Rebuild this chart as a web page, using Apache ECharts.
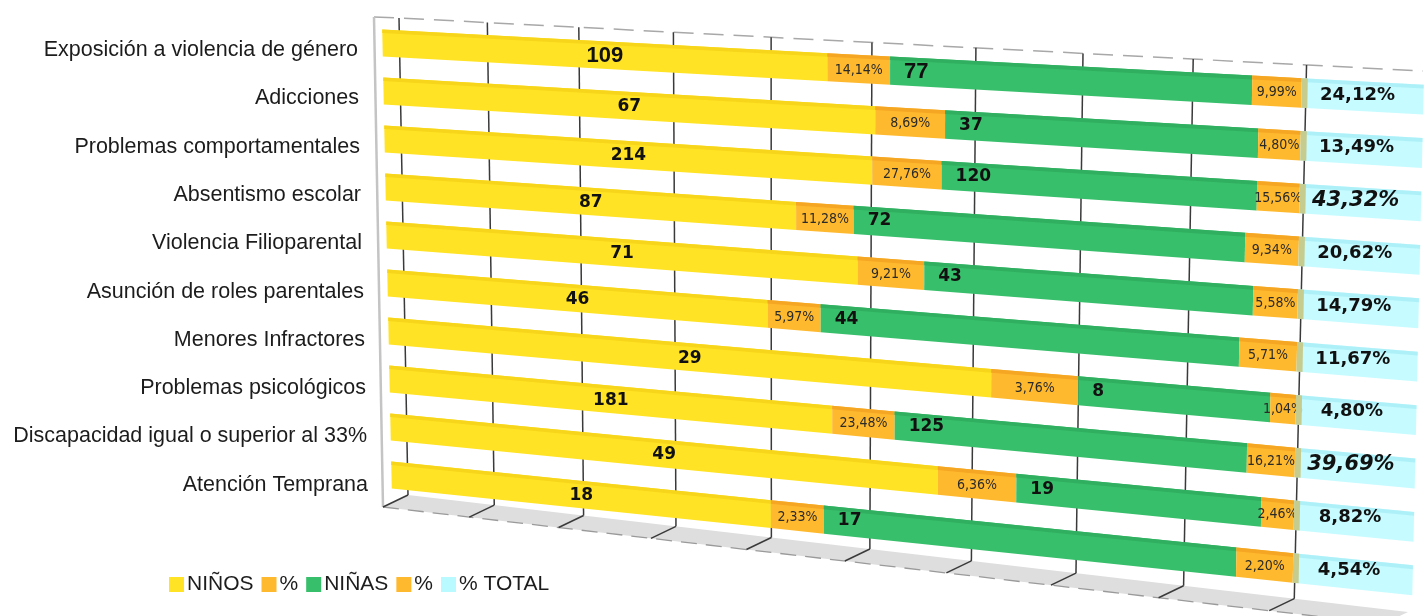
<!DOCTYPE html>
<html>
<head>
<meta charset="utf-8">
<script src="https://cdn.jsdelivr.net/npm/echarts@6/dist/echarts.min.js"></script>
<style>
  html, body { margin: 0; padding: 0; background: #fff; }
  #chart { width: 1424px; height: 616px; }
</style>
</head>
<body>
<div id="chart"></div>
<script>
const categories = [
  'Exposición a violencia de género',
  'Adicciones',
  'Problemas comportamentales',
  'Absentismo escolar',
  'Violencia Filioparental',
  'Asunción de roles parentales',
  'Menores Infractores',
  'Problemas psicológicos',
  'Discapacidad igual o superior al 33%',
  'Atención Temprana'
]
const ninos = [109, 67, 214, 87, 71, 46, 29, 181, 49, 18]
const ninosPct = [14.14, 8.69, 27.76, 11.28, 9.21, 5.97, 3.76, 23.48, 6.36, 2.33]
const ninas = [77, 37, 120, 72, 43, 44, 8, 125, 19, 17]
const ninasPct = [9.99, 4.80, 15.56, 9.34, 5.58, 5.71, 1.04, 16.21, 2.46, 2.20]
const totalPct = [24.12, 13.49, 43.32, 20.62, 14.79, 11.67, 4.80, 39.69, 8.82, 4.54]
const gridTicks = [0, 10, 20, 30, 40, 50, 60, 70, 80, 90]

const pctText = v => v.toFixed(2).replace('.', ',') + '%'
const narrow = "'Liberation Sans Narrow', 'DejaVu Sans Condensed', 'Liberation Sans', sans-serif"

// perspective helpers (Excel-like 3D bar look)
const K = 0.18
const persp = u => (u + K * u * u) / (1 + K)
const lerp = (a, b, t) => a + (b - a) * t

function barPoint(cs, g, v) {
  const py = cs.y + cs.height * v
  return [
    cs.x + cs.width * g + v * (10 - 22 * g),
    py - 7 - 3 * v + g * (53.9 + 54.1 * v)
  ]
}

function backCorners(cs) {
  const L = cs.x, T = cs.y, W = cs.width, H = cs.height
  return {
    t0: [L + 17, T - 8], t1: [L + W - 1, T + 45],
    b0: [L + 26, T + H - 14], b1: [L + W - 16, T + H + 103]
  }
}

function backPoint(cs, g, t) {
  const c = backCorners(cs)
  const top = [lerp(c.t0[0], c.t1[0], g), lerp(c.t0[1], c.t1[1], g)]
  const bot = [lerp(c.b0[0], c.b1[0], g), lerp(c.b0[1], c.b1[1], g)]
  return [lerp(top[0], bot[0], t), lerp(top[1], bot[1], t)]
}

const floorDepth = [-25, 12]

// top two totals get the italic highlight
const topTotals = totalPct.slice().sort((a, b) => b - a).slice(0, 2)

const segments = [
  { name: 'NIÑOS', values: ninos, color: '#FFE324', top: '#F7D51A', kind: 'count' },
  { name: '%', values: ninosPct, color: '#FFB92E', top: '#F5A623', kind: 'pct' },
  { name: 'NIÑAS', values: ninas, color: '#38BF6B', top: '#2FAF5F', kind: 'countLeft' },
  { name: '% ', values: ninasPct, color: '#FFB92E', top: '#F5A623', kind: 'pct' },
  { name: '% TOTAL', values: totalPct, color: '#B8FAFF', top: '#A8EEF6', kind: 'total' }
]

const rowSums = categories.map((_, i) => segments.reduce((s, seg) => s + seg.values[i], 0))

function stackedData(segIndex) {
  return categories.map((_, i) => {
    let start = 0
    for (let s = 0; s < segIndex; s++) start += segments[s].values[i]
    const end = start + segments[segIndex].values[i]
    return [start / rowSums[i] * 100, end / rowSums[i] * 100, i, segments[segIndex].values[i]]
  })
}

function makeSegRender(seg) {
  return function (params, api) {
    const cs = params.coordSys
    const row = api.value(2)
    const a = api.coord([api.value(0), row])
    const b = api.coord([api.value(1), row])
    const g0 = persp((a[0] - cs.x) / cs.width)
    const g1 = persp((b[0] - cs.x) / cs.width)
    const v = (a[1] - cs.y) / cs.height
    const half = 13.5 / cs.height
    const vt = v - half, vb = v + half
    const faceV = vt + 3.5 / cs.height
    const children = []
    const opacity = seg.kind === 'total' ? 0.8 : 1
    children.push({
      type: 'polygon',
      shape: { points: [barPoint(cs, g0, vt), barPoint(cs, g1, vt), barPoint(cs, g1, vb), barPoint(cs, g0, vb)] },
      style: { fill: seg.color, opacity }
    })
    children.push({
      type: 'polygon',
      shape: { points: [barPoint(cs, g0, vt), barPoint(cs, g1, vt), barPoint(cs, g1, faceV), barPoint(cs, g0, faceV)] },
      style: { fill: seg.top, opacity }
    })
    if (seg.kind === 'total') {
      const ge = g0 + 6 / cs.width
      children.push({
        type: 'polygon',
        shape: { points: [barPoint(cs, g0, vt), barPoint(cs, ge, vt), barPoint(cs, ge, vb), barPoint(cs, g0, vb)] },
        style: { fill: '#C6CB8E' }
      })
    }

    const val = api.value(3)
    const mid = barPoint(cs, (g0 + g1) / 2, v)
    let text
    if (seg.kind === 'count') {
      text = {
        x: mid[0], y: mid[1] + 1,
        style: {
          text: String(val), fill: '#111', align: 'center', verticalAlign: 'middle',
          fontFamily: row === 0 ? 'Liberation Sans' : 'DejaVu Sans',
          fontSize: row === 0 ? 22 : 17, fontWeight: 'bold'
        }
      }
    } else if (seg.kind === 'countLeft') {
      const p = barPoint(cs, g0, v)
      text = {
        x: p[0] + 14, y: p[1] + 1,
        style: {
          text: String(val), fill: '#111', align: 'left', verticalAlign: 'middle',
          fontFamily: row === 0 ? 'Liberation Sans' : 'DejaVu Sans',
          fontSize: row === 0 ? 22 : 17, fontWeight: 'bold'
        }
      }
    } else if (seg.kind === 'pct') {
      text = {
        x: mid[0], y: mid[1] + 1,
        style: {
          text: pctText(val), fill: '#2a2a2a', align: 'center', verticalAlign: 'middle',
          fontFamily: narrow, fontSize: 14
        }
      }
    } else {
      const hi = topTotals.indexOf(val) >= 0
      const p = barPoint(cs, g0, v)
      text = {
        x: p[0] + 56, y: p[1] + 2,
        style: {
          text: pctText(val), fill: '#111', align: 'center', verticalAlign: 'middle',
          fontFamily: 'DejaVu Sans', fontWeight: 'bold',
          fontStyle: hi ? 'italic' : 'normal', fontSize: hi ? 21 : 18
        }
      }
    }
    text.type = 'text'
    children.push(text)
    return { type: 'group', children }
  }
}

function renderFrame(params, api) {
  const cs = params.coordSys
  const c = backCorners(cs)
  const f0 = [c.b0[0] + floorDepth[0], c.b0[1] + floorDepth[1]]
  const f1 = [c.b1[0] + floorDepth[0], c.b1[1] + floorDepth[1]]
  const wallTop = [c.t0[0] - 25, c.t0[1] - 1]
  return {
    type: 'group',
    children: [
      { type: 'polygon', shape: { points: [c.b0, c.b1, f1, f0] }, style: { fill: '#DEDEDE' } },
      { type: 'polyline', shape: { points: [f0, f1] },
        style: { stroke: '#9A9A9A', lineWidth: 1.3, lineDash: [16, 9], fill: null } },
      { type: 'polyline', shape: { points: [wallTop, c.t0, c.t1] },
        style: { stroke: '#A8A8A8', lineWidth: 1.5, lineDash: [20, 10], fill: null } },
      { type: 'polyline', shape: { points: [wallTop, f0] },
        style: { stroke: '#C4C4C4', lineWidth: 2.5, fill: null } }
    ]
  }
}

function renderGridLine(params, api) {
  const cs = params.coordSys
  const p = api.coord([api.value(0), 0])
  const g = persp((p[0] - cs.x) / cs.width)
  const top = backPoint(cs, g, 0)
  const bot = backPoint(cs, g, 1)
  const front = [bot[0] + floorDepth[0], bot[1] + floorDepth[1]]
  return {
    type: 'group',
    children: [
      { type: 'line', shape: { x1: top[0], y1: top[1], x2: bot[0], y2: bot[1] },
        style: { stroke: '#3a3a3a', lineWidth: 1.5 } },
      { type: 'line', shape: { x1: bot[0], y1: bot[1], x2: front[0], y2: front[1] },
        style: { stroke: '#3a3a3a', lineWidth: 1.5 } }
    ]
  }
}

// category labels drift right a little going down (perspective)
const labelRich = {}
categories.forEach((_, i) => {
  labelRich['r' + i] = {
    fontFamily: 'Liberation Sans', fontSize: 21.5, color: '#1c1c1c',
    padding: [0, Math.round(10 * (1 - i / (categories.length - 1))), 0, 0]
  }
})

const chart = echarts.init(document.getElementById('chart'))

const series = [
  {
    type: 'custom', name: 'frame', silent: true, z: 1,
    renderItem: renderFrame, data: [[0, 0]], encode: { x: 0, y: 1 }
  },
  {
    type: 'custom', name: 'grid', silent: true, z: 2,
    renderItem: renderGridLine, data: gridTicks.map(t => [t, 0]), encode: { x: 0, y: 1 }
  }
].concat(segments.map((seg, idx) => ({
  type: 'custom',
  name: seg.name,
  z: 3,
  itemStyle: { color: seg.color },
  renderItem: makeSegRender(seg),
  data: stackedData(idx),
  encode: { x: [0, 1], y: 2 }
})))

chart.setOption({
  animation: false,
  backgroundColor: '#fff',
  grid: { left: 382, top: 26, width: 1046, height: 483 },
  xAxis: { type: 'value', min: 0, max: 100, show: false },
  yAxis: {
    type: 'category',
    data: categories,
    inverse: true,
    axisLine: { show: false },
    axisTick: { show: false },
    splitLine: { show: false },
    axisLabel: {
      margin: 14,
      formatter: (value, index) => '{r' + index + '|' + value + '}',
      rich: labelRich
    }
  },
  legend: {
    data: segments.map(s => s.name),
    left: 164,
    top: 569,
    icon: 'rect',
    itemWidth: 15,
    itemHeight: 15,
    itemGap: 8,
    formatter: name => name.trim(),
    textStyle: { fontFamily: 'Liberation Sans', fontSize: 21, color: '#1c1c1c', padding: [0, 0, 0, -2] }
  },
  series
})
</script>
</body>
</html>
